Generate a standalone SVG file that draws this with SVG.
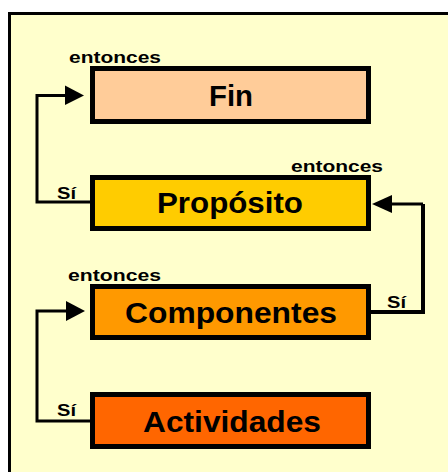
<svg xmlns="http://www.w3.org/2000/svg" width="448" height="472" viewBox="0 0 448 472">
  <style>
    .box { stroke: #000; stroke-width: 5; }
    .title { font-family: "Liberation Sans", Arial, sans-serif; font-weight: bold; font-size: 29px; fill: #000; }
    .lbl { font-family: "Liberation Sans", Arial, sans-serif; font-weight: bold; font-size: 17px; fill: #000; }
    .sl { font-family: "Liberation Sans", Arial, sans-serif; font-weight: bold; font-size: 16px; fill: #000; }
    .conn { fill: none; stroke: #000; stroke-width: 3; }
    .head { fill: #000; }
  </style>
  <rect x="0" y="0" width="448" height="472" fill="#FFFFFF"/>
  <rect x="9.5" y="13.5" width="500" height="500" fill="#FFFFCC" stroke="#000" stroke-width="3"/>

  <g id="connectors">
    <path class="conn" d="M90,202 H37 V95.5 H68"/>
    <polygon class="head" points="65,85.5 84,95.5 65,105"/>
    <path class="conn" d="M371,312 H423 V204" style="stroke-width:4"/>
    <path class="conn" d="M423,204 H390"/>
    <polygon class="head" points="392,195 372,204 392,213"/>
    <path class="conn" d="M90,421 H37 V311 H68"/>
    <polygon class="head" points="66,301 85,311 66,321"/>
  </g>

  <g id="fin">
    <rect class="box" x="92.5" y="68.5" width="276" height="53" fill="#FFCC99"/>
    <text class="title" x="231" y="106" text-anchor="middle" textLength="44" lengthAdjust="spacingAndGlyphs">Fin</text>
  </g>
  <g id="proposito">
    <rect class="box" x="92.5" y="177.5" width="276" height="51" fill="#FFCC00"/>
    <text class="title" x="230" y="213" text-anchor="middle" textLength="146" lengthAdjust="spacingAndGlyphs">Propósito</text>
  </g>
  <g id="componentes">
    <rect class="box" x="92.5" y="286.5" width="276" height="51" fill="#FF9900"/>
    <text class="title" x="231" y="323" text-anchor="middle" textLength="212" lengthAdjust="spacingAndGlyphs">Componentes</text>
  </g>
  <g id="actividades">
    <rect class="box" x="92.5" y="394.5" width="276" height="52" fill="#FF6600"/>
    <text class="title" x="232" y="432" text-anchor="middle" textLength="178" lengthAdjust="spacingAndGlyphs">Actividades</text>
  </g>

  <g id="labels">
    <text class="lbl" x="69" y="63" textLength="92" lengthAdjust="spacingAndGlyphs">entonces</text>
    <text class="lbl" x="291" y="172" textLength="92" lengthAdjust="spacingAndGlyphs">entonces</text>
    <text class="lbl" x="68" y="281" textLength="93" lengthAdjust="spacingAndGlyphs">entonces</text>
    <text class="sl" x="57" y="199" textLength="19" lengthAdjust="spacingAndGlyphs">Sí</text>
    <text class="sl" x="387" y="308" textLength="19" lengthAdjust="spacingAndGlyphs">Sí</text>
    <text class="sl" x="57" y="416" textLength="19" lengthAdjust="spacingAndGlyphs">Sí</text>
  </g>
</svg>
